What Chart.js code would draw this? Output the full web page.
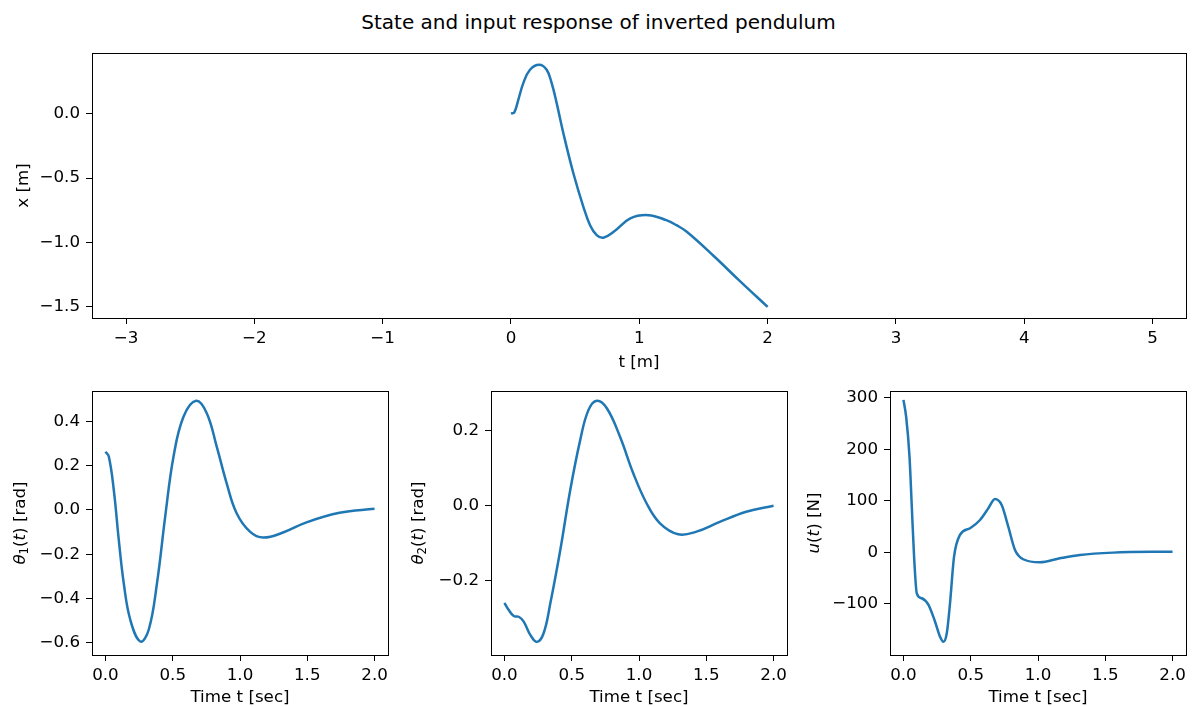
<!DOCTYPE html>
<html>
<head>
<meta charset="utf-8">
<script src="https://cdn.jsdelivr.net/npm/chart.js@4.4.1/dist/chart.umd.min.js"></script>
<style>
    body { margin: 0; background: #fff; }
    #fig { position: relative; width: 1195px; height: 707px; background: #fff; overflow: hidden; }
    #fig > div { position: absolute; }
    #suptitle {
        left: 0; top: 10px; width: 1197px; text-align: center;
        font-family: "DejaVu Sans", sans-serif; font-size: 20px; line-height: 24px; color: #000;
    }
</style>
</head>
<body>
<div id="fig">
    <div id="suptitle">State and input response of inverted pendulum</div>
    <div style="left:0; top:40px; width:1195px; height:340px;"><canvas id="cartChart"></canvas></div>
    <div style="left:0; top:380px; width:395px; height:330px;"><canvas id="theta1Chart"></canvas></div>
    <div style="left:400px; top:380px; width:395px; height:330px;"><canvas id="theta2Chart"></canvas></div>
    <div style="left:795px; top:380px; width:400px; height:330px;"><canvas id="inputChart"></canvas></div>
</div>
<script>
// 小车位置 x(t)
const tCart = [0, 0.026, 0.057, 0.096, 0.148, 0.22, 0.278, 0.317, 0.356, 0.408, 0.486, 0.564, 0.616, 0.668, 0.72, 0.80, 0.93, 1.07, 1.21, 1.29, 1.37, 1.58, 1.78, 2.0];
const xCart = [0, 0.01, 0.107, 0.236, 0.34, 0.379, 0.34, 0.236, 0.081, -0.152, -0.463, -0.723, -0.866, -0.943, -0.963, -0.917, -0.813, -0.788, -0.827, -0.866, -0.917, -1.105, -1.296, -1.50];

// 摆角 theta1
const tTheta1 = [0, 0.025, 0.062, 0.099, 0.136, 0.185, 0.259, 0.321, 0.383, 0.444, 0.506, 0.58, 0.674, 0.753, 0.827, 0.901, 0.975, 1.074, 1.173, 1.32, 1.494, 1.74, 2.0];
const theta1 = [0.263, 0.241, 0.09, -0.135, -0.331, -0.497, -0.594, -0.542, -0.331, -0.03, 0.241, 0.421, 0.493, 0.437, 0.286, 0.12, -0.015, -0.098, -0.125, -0.102, -0.056, -0.013, 0.005];

// 摆角 theta2
const tTheta2 = [0, 0.032, 0.069, 0.106, 0.143, 0.193, 0.242, 0.291, 0.341, 0.415, 0.489, 0.563, 0.624, 0.687, 0.761, 0.859, 0.958, 1.057, 1.156, 1.291, 1.427, 1.6, 1.797, 2.0];
const theta2 = [-0.26, -0.279, -0.295, -0.297, -0.31, -0.346, -0.364, -0.341, -0.261, -0.119, 0.041, 0.174, 0.254, 0.279, 0.259, 0.183, 0.085, 0.005, -0.048, -0.077, -0.07, -0.044, -0.017, -0.001];

// 输入 u(t)
const tInput = [0, 0.02, 0.045, 0.062, 0.079, 0.099, 0.136, 0.186, 0.235, 0.272, 0.297, 0.322, 0.346, 0.376, 0.42, 0.495, 0.569, 0.631, 0.68, 0.73, 0.779, 0.829, 0.89, 1.014, 1.162, 1.311, 1.558, 2.0];
const uInput = [295.7, 263, 185.6, 88.5, -8.5, -79.6, -89.3, -102, -134.8, -163.9, -173.6, -157.3, -99, -8.5, 33.6, 46.6, 62.7, 85.4, 103.5, 91.8, 49.7, 4.5, -13.6, -19.4, -11.7, -5.2, -0.7, 1.2];

// 刻度
const cartXTicks = [-3, -2, -1, 0, 1, 2, 3, 4, 5];
const cartYTicks = [-1.5, -1.0, -0.5, 0.0];
const timeTicks = [0, 0.5, 1.0, 1.5, 2.0];
const theta1Ticks = [-0.6, -0.4, -0.2, 0.0, 0.2, 0.4];
const theta2Ticks = [-0.2, 0.0, 0.2];
const inputTicks = [-100, 0, 100, 200, 300];

const LINE_COLOR = '#1f77b4';
const FONT = 'DejaVu Sans';
const FONT_SIZE = 16.7;

Chart.defaults.font.family = FONT;
Chart.defaults.font.size = FONT_SIZE;
Chart.defaults.color = '#000';

/**
 * 画四边框
 */
const framePlugin = {
    id: 'frame',
    afterDraw(chart) {
        const { ctx, chartArea: a } = chart;
        ctx.save();
        ctx.strokeStyle = '#000';
        ctx.lineWidth = 1;
        ctx.strokeRect(Math.round(a.left) + 0.5, Math.round(a.top) + 0.5,
            Math.round(a.right) - Math.round(a.left), Math.round(a.bottom) - Math.round(a.top));
        ctx.restore();
    }
};

/**
 * y轴数学标签（斜体 + 下标）
 */
const mathLabelPlugin = {
    id: 'mathLabel',
    afterDraw(chart, args, opts) {
        if (!opts.parts) return;
        const { ctx, chartArea: a } = chart;
        const fontOf = p => (p.italic ? 'italic ' : '') + (p.sub ? FONT_SIZE * 0.7 : FONT_SIZE) + 'px "' + FONT + '"';
        ctx.save();
        ctx.fillStyle = '#000';
        ctx.textBaseline = 'middle';
        let total = 0;
        const widths = opts.parts.map(p => {
            ctx.font = fontOf(p);
            const w = ctx.measureText(p.t).width;
            total += w;
            return w;
        });
        ctx.translate(opts.x, (a.top + a.bottom) / 2);
        ctx.rotate(-Math.PI / 2);
        let x = -total / 2;
        opts.parts.forEach((p, i) => {
            ctx.font = fontOf(p);
            ctx.fillText(p.t, x, p.sub ? 4 : 0);
            x += widths[i];
        });
        ctx.restore();
    }
};

function fmt(decimals) {
    return v => Number(v).toFixed(decimals).replace('-', '\u2212');
}

function makeAxis(opts) {
    const axis = {
        type: 'linear',
        position: opts.position,
        min: opts.min,
        max: opts.max,
        afterBuildTicks: s => { s.ticks = opts.ticks.map(v => ({ value: v })); },
        afterFit: s => {
            if (opts.position === 'left') s.width = opts.size;
            else s.height = opts.size;
            // 不让刻度文字撑开绘图区
            s.paddingTop = 0;
            s.paddingBottom = 0;
            s.paddingLeft = 0;
            s.paddingRight = 0;
        },
        grid: { display: true, drawOnChartArea: false, drawTicks: true, tickLength: 6, color: '#000', lineWidth: 1 },
        border: { display: true, color: '#000', width: 1 },
        ticks: { autoSkip: false, maxRotation: 0, padding: opts.position === 'left' ? 6 : 5, callback: fmt(opts.decimals), color: '#000' },
        title: { display: false }
    };
    if (opts.title) {
        axis.title = {
            display: true,
            text: opts.title,
            color: '#000',
            padding: opts.titlePadding
        };
    }
    return axis;
}

function makeChart(id, ts, vs, cfg) {
    const ctx = document.getElementById(id).getContext('2d');
    return new Chart(ctx, {
        type: 'line',
        data: {
            datasets: [{
                data: ts.map((t, i) => ({ x: t, y: vs[i] })),
                borderColor: LINE_COLOR,
                borderWidth: 2.5,
                pointRadius: 0,
                fill: false,
                tension: 0.4,
                cubicInterpolationMode: cfg.interp || 'default'
            }]
        },
        options: {
            responsive: true,
            maintainAspectRatio: false,
            animation: false,
            events: [],
            layout: { padding: cfg.padding },
            scales: { x: cfg.x, y: cfg.y },
            plugins: {
                legend: { display: false },
                tooltip: { enabled: false },
                mathLabel: cfg.mathLabel || {}
            }
        },
        plugins: [framePlugin, mathLabelPlugin]
    });
}

// 上方大图
makeChart('cartChart', tCart, xCart, {
    padding: { top: 13, right: 9, bottom: 0, left: 0 },
    x: makeAxis({ position: 'bottom', min: -3.265, max: 5.26, ticks: cartXTicks, decimals: 0, size: 62,
        title: 't [m]', titlePadding: { top: 0, bottom: 7 } }),
    y: makeAxis({ position: 'left', min: -1.586, max: 0.47, ticks: cartYTicks, decimals: 1, size: 92,
        title: 'x [m]', titlePadding: { top: 14, bottom: 0 } })
});

const timeTitle = { top: 0, bottom: 2 };

makeChart('theta1Chart', tTheta1, theta1, {
    padding: { top: 11, right: 7, bottom: 0, left: 0 },
    x: makeAxis({ position: 'bottom', min: -0.1, max: 2.1, ticks: timeTicks, decimals: 1, size: 55,
        title: 'Time t [sec]', titlePadding: timeTitle }),
    y: makeAxis({ position: 'left', min: -0.655, max: 0.537, ticks: theta1Ticks, decimals: 1, size: 92 }),
    mathLabel: { x: 21, parts: [
        { t: 'θ', italic: true }, { t: '1', sub: true }, { t: '(' }, { t: 't', italic: true }, { t: ') [rad]' }
    ] }
});

makeChart('theta2Chart', tTheta2, theta2, {
    padding: { top: 11, right: 8, bottom: 0, left: 0 },
    x: makeAxis({ position: 'bottom', min: -0.1, max: 2.1, ticks: timeTicks, decimals: 1, size: 55,
        title: 'Time t [sec]', titlePadding: timeTitle }),
    y: makeAxis({ position: 'left', min: -0.399, max: 0.305, ticks: theta2Ticks, decimals: 1, size: 91 }),
    mathLabel: { x: 19, parts: [
        { t: 'θ', italic: true }, { t: '2', sub: true }, { t: '(' }, { t: 't', italic: true }, { t: ') [rad]' }
    ] }
});

makeChart('inputChart', tInput, uInput, {
    padding: { top: 11, right: 9, bottom: 0, left: 0 },
    interp: 'monotone',
    x: makeAxis({ position: 'bottom', min: -0.1, max: 2.1, ticks: timeTicks, decimals: 1, size: 55,
        title: 'Time t [sec]', titlePadding: timeTitle }),
    y: makeAxis({ position: 'left', min: -199.4, max: 313, ticks: inputTicks, decimals: 0, size: 95 }),
    mathLabel: { x: 20, parts: [
        { t: 'u', italic: true }, { t: '(' }, { t: 't', italic: true }, { t: ') [N]' }
    ] }
});
</script>
</body>
</html>
